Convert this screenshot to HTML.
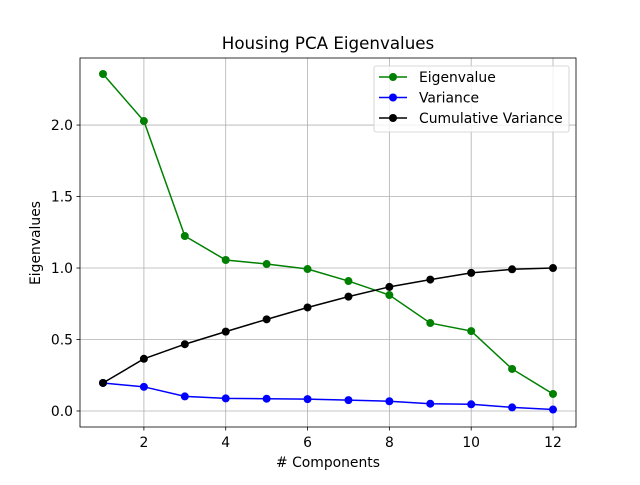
<!DOCTYPE html>
<html><head><meta charset="utf-8"><style>body{margin:0;background:#fff}svg{font-family:"DejaVu Sans","Liberation Sans",sans-serif}</style></head>
<body>
<svg id="c" width="640" height="480"></svg>
<script>
const components=[1,2,3,4,5,6,7,8,9,10,11,12];
const eigenvalues=[2.357,2.028,1.224,1.056,1.028,0.993,0.909,0.811,0.615,0.559,0.294,0.119];
const variance=[0.196,0.169,0.102,0.088,0.086,0.083,0.076,0.068,0.051,0.047,0.025,0.010];
const cumulative=[0.196,0.365,0.467,0.555,0.641,0.724,0.800,0.868,0.919,0.966,0.991,1.0];
const xTicks=[2,4,6,8,10,12];
const yTicks=[0.0,0.5,1.0,1.5,2.0];
const L=80,R=576,T=58,B=427;
const x0=0.438,x1=12.562,y0=-0.112,y1=2.469;
const sx=v=>L+(v-x0)/(x1-x0)*(R-L);
const sy=v=>B-(v-y0)/(y1-y0)*(B-T);
const svg=document.getElementById('c');const NS='http://www.w3.org/2000/svg';
function mk(t,a,p){const e=document.createElementNS(NS,t);for(const k in a)e.setAttribute(k,a[k]);(p||svg).appendChild(e);return e;}
let e;
xTicks.forEach(v=>{
e=mk('line',{x1:sx(v),x2:sx(v),y1:T,y2:B,stroke:'#b0b0b0','stroke-width':0.8});


mk('line',{x1:sx(v),x2:sx(v),y1:B,y2:B+3.5,stroke:'#000','stroke-width':0.8});
e=mk('text',{x:sx(v),y:B+20,'text-anchor':'middle','font-size':13.9});e.textContent=v;


});
yTicks.forEach(v=>{
e=mk('line',{x1:L,x2:R,y1:sy(v),y2:sy(v),stroke:'#b0b0b0','stroke-width':0.8});


mk('line',{x1:L-3.5,x2:L,y1:sy(v),y2:sy(v),stroke:'#000','stroke-width':0.8});
e=mk('text',{x:L-7,y:sy(v)+5,'text-anchor':'end','font-size':13.9});e.textContent=v.toFixed(1);


});
function series(vals,col,name){
const g=mk('g',{});


mk('polyline',{points:vals.map((v,i)=>sx(components[i])+','+sy(v)).join(' '),fill:'none',stroke:col,'stroke-width':1.5},g);
vals.forEach((v,i)=>{const c=mk('circle',{cx:sx(components[i]),cy:sy(v),r:4,fill:col},g);

});
}
series(eigenvalues,'green','eigenvalue-series');
series(variance,'blue','variance-series');
series(cumulative,'black','cumulative-variance-series');
e=mk('rect',{x:L,y:T,width:R-L,height:B-T,fill:'none',stroke:'#000','stroke-width':0.8});


e=mk('text',{x:328,y:49,'text-anchor':'middle','font-size':16.7});e.textContent='Housing PCA Eigenvalues';


e=mk('text',{x:328,y:467,'text-anchor':'middle','font-size':13.9});e.textContent='# Components';


e=mk('text',{x:0,y:0,'text-anchor':'middle','font-size':13.9,transform:'translate(40,243) rotate(-90)'});e.textContent='Eigenvalues';


const lg=mk('g',{});


mk('rect',{x:374,y:66,width:195,height:66,rx:2,fill:'#fff',stroke:'#ccc','stroke-width':0.8,'fill-opacity':0.8},lg);
[['Eigenvalue','green'],['Variance','blue'],['Cumulative Variance','black']].forEach((d,i)=>{
const y=77+i*20.5;
const it=mk('g',{},lg);


mk('line',{x1:379,x2:407,y1:y,y2:y,stroke:d[1],'stroke-width':1.5},it);
mk('circle',{cx:393,cy:y,r:4,fill:d[1]},it);
const t=mk('text',{x:419,y:y+5,'font-size':13.9},it);t.textContent=d[0];
});
</script>
</body></html>
